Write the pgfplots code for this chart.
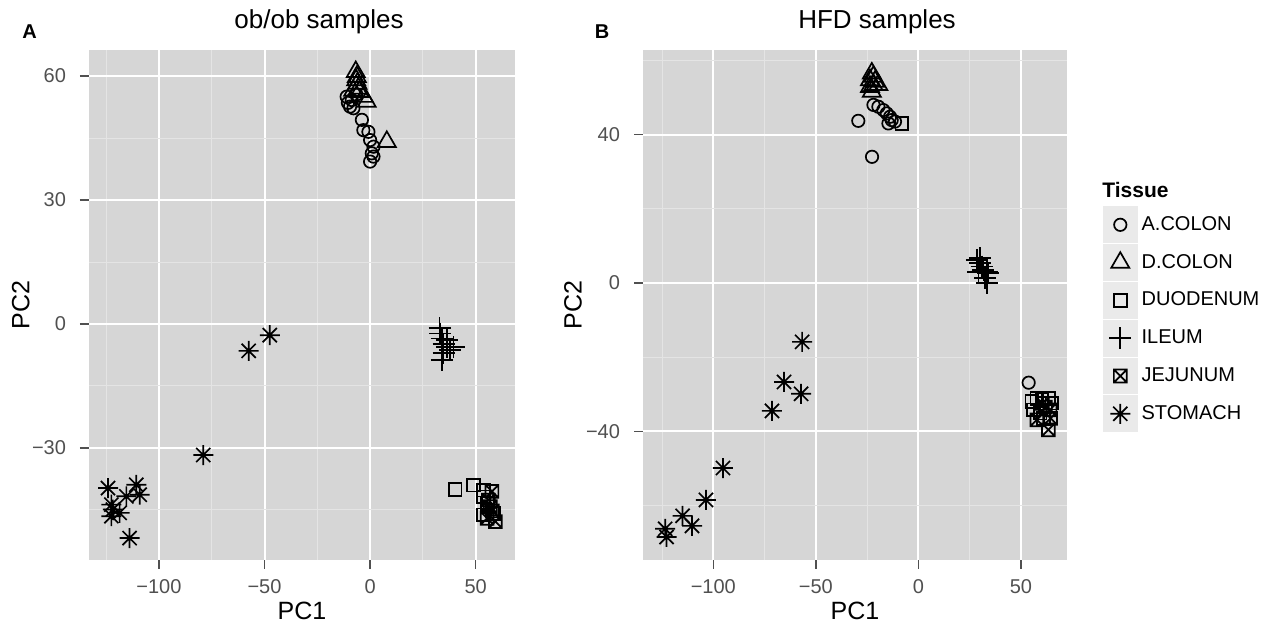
\documentclass[border=0pt]{standalone}
\usepackage{fontspec}
\setmainfont{Liberation Sans}
\usepackage{pgfplots}
\pgfplotsset{compat=1.18}

\definecolor{panel}{RGB}{214,214,214}
\definecolor{minorgrid}{RGB}{228,228,228}
\definecolor{keybg}{RGB}{234,234,234}
\definecolor{ticktext}{RGB}{80,80,80}

% ggplot shapes 7 (boxed x) and 8 (asterisk)
\pgfdeclareplotmark{boxx}{%
  \pgfpathrectangle{\pgfpoint{-\pgfplotmarksize}{-\pgfplotmarksize}}{\pgfpoint{2\pgfplotmarksize}{2\pgfplotmarksize}}%
  \pgfpathmoveto{\pgfpoint{-\pgfplotmarksize}{-\pgfplotmarksize}}\pgfpathlineto{\pgfpoint{\pgfplotmarksize}{\pgfplotmarksize}}%
  \pgfpathmoveto{\pgfpoint{-\pgfplotmarksize}{\pgfplotmarksize}}\pgfpathlineto{\pgfpoint{\pgfplotmarksize}{-\pgfplotmarksize}}%
  \pgfusepathqstroke}
\pgfdeclareplotmark{star8}{%
  \pgfpathmoveto{\pgfpoint{-\pgfplotmarksize}{0pt}}\pgfpathlineto{\pgfpoint{\pgfplotmarksize}{0pt}}%
  \pgfpathmoveto{\pgfpoint{0pt}{-\pgfplotmarksize}}\pgfpathlineto{\pgfpoint{0pt}{\pgfplotmarksize}}%
  \pgfpathmoveto{\pgfpoint{-0.707\pgfplotmarksize}{-0.707\pgfplotmarksize}}\pgfpathlineto{\pgfpoint{0.707\pgfplotmarksize}{0.707\pgfplotmarksize}}%
  \pgfpathmoveto{\pgfpoint{-0.707\pgfplotmarksize}{0.707\pgfplotmarksize}}\pgfpathlineto{\pgfpoint{0.707\pgfplotmarksize}{-0.707\pgfplotmarksize}}%
  \pgfusepathqstroke}

\pgfplotsset{
  gg/.style={
    scale only axis,
    anchor=south west,
    axis background/.style={fill=panel},
    axis line style={draw=none},
    grid=both,
    major grid style={white, line width=1pt},
    minor grid style={minorgrid, line width=0.5pt},
    tick align=outside, tick pos=left,
    major tick length=4.5pt, minor tick length=0pt,
    major tick style={ticktext, line width=0.7pt},
    ticklabel style={font=\fontsize{10}{12}\selectfont, text=ticktext},
    xticklabel style={yshift=-1.5pt},
    yticklabel style={xshift=-3.5pt},
    label style={font=\fontsize{12.5}{14}\selectfont},
    xtick={-100,-50,0,50}, xticklabels={−100,−50,0,50},
    minor xtick={-125,-75,-25,25},
    every axis plot/.append style={only marks, black, line width=0.85pt},
  },
  sA/.style={mark=o, mark size=3.1pt},
  sD/.style={mark=triangle, mark size=5.2pt},
  sDu/.style={mark=square, mark size=3.2pt},
  sI/.style={mark=+, mark size=5.5pt},
  sJ/.style={mark=boxx, mark size=3.2pt},
  sS/.style={mark=star8, mark size=5pt},
}

\begin{document}
\begin{tikzpicture}[x=1pt,y=1pt]
\path[use as bounding box] (0,0) rectangle (636.5,315);

% panel A: ob/ob
\begin{axis}[gg,
  at={(44.5pt,35pt)}, width=213pt, height=255pt,
  xmin=-133.1, xmax=68.6, ymin=-57.1, ymax=66.3,
  ytick={-30,0,30,60}, yticklabels={−30,0,30,60},
  minor ytick={-45,-15,15,45},
  xlabel={PC1}, ylabel={PC2},
  xlabel style={at={(axis description cs:0.5,-0.1)}, anchor=center},
  ylabel style={at={(axis description cs:-0.16,0.5)}, anchor=center},
]
\addplot[sA] coordinates {(-11.1,55.0) (-8.7,54.2) (-9.5,52.6) (-7.9,52.2) (-3.9,49.4) (-3.2,46.9) (-0.8,46.5) (0,44.5) (1.6,42.9) (0.8,41.3) (0,39.3) (1.6,40.5) (-6.5,55.5) (-10.5,53.5)};
\addplot[sD] coordinates {(-6.8,61.0) (-6.3,59.8) (-6.6,59.0) (-6.0,58.2) (-5.6,57.0) (-5.1,56.2) (-8.0,56.5) (-3.0,55.0) (-1.6,53.8) (7.9,44.1)};
\addplot[sDu] coordinates {(40.3,-40.0) (49.0,-39.0) (53.7,-40.2) (53.7,-41.8) (55.4,-43.4) (53.7,-46.2) (58.5,-45.8)};
\addplot[sI] coordinates {(32.9,-1.0) (33.2,-2.3) (34.0,-3.5) (34.8,-4.8) (36.4,-5.6) (39.5,-5.6) (37.9,-6.3) (34.8,-7.1) (34.0,-8.7) (36.4,-3.9)};
\addplot[sJ] coordinates {(57.7,-40.5) (56.9,-44.2) (59.3,-47.8) (55.4,-47.0) (56.0,-42.6) (57.9,-45.2)};
\addplot[sS] coordinates {(-57.5,-6.5) (-47.5,-2.7) (-79.0,-31.7) (-124.1,-39.7) (-110.7,-38.9) (-109.1,-41.3) (-115.4,-41.7) (-122.5,-43.7) (-121.8,-44.9) (-118.6,-45.7) (-122.5,-46.5) (-113.9,-51.8)};
\end{axis}

% panel B: HFD
\begin{axis}[gg,
  at={(321.5pt,35pt)}, width=212pt, height=255pt,
  xmin=-134.3, xmax=72.5, ymin=-74.7, ymax=62.8,
  ytick={-40,0,40}, yticklabels={−40,0,40},
  minor ytick={-60,-20,20,60},
  xlabel={PC1}, ylabel={PC2},
  xlabel style={at={(axis description cs:0.5,-0.1)}, anchor=center},
  ylabel style={at={(axis description cs:-0.165,0.5)}, anchor=center},
  legend style={at={(1.0838,0.694)}, anchor=north west, draw=none, fill=none,
    inner sep=0pt, row sep=0.55pt, font=\fontsize{10}{12}\selectfont,
    nodes={inner ysep=0pt, inner xsep=2pt}},
  legend cell align=left,
  legend image code/.code={%
    \fill[keybg] (-8.25pt,-8.75pt) rectangle (8.25pt,8.75pt);
    \draw[#1] plot coordinates {(0pt,0pt)};},
]
\addplot[sA] coordinates {(-29.3,43.7) (-21.9,48.0) (-19.5,47.5) (-17.1,46.6) (-15.4,45.7) (-13.8,44.8) (-13.0,43.9) (-14.6,43.0) (-11.4,43.5) (-22.6,34.0) (53.8,-26.9)};
\addlegendentry{A.COLON}
\addplot[sD] coordinates {(-22.7,56.5) (-21.9,55.6) (-23.6,54.7) (-21.1,54.3) (-21.9,53.4) (-23.6,52.9) (-19.5,53.4) (-22.7,51.6)};
\addlegendentry{D.COLON}
\addplot[sDu] coordinates {(-8.1,43.0) (55.3,-32.0) (57.8,-31.1) (60.2,-31.5) (63.4,-31.1) (56.1,-34.2) (59.4,-35.1) (61.0,-36.5) (65.1,-32.4)};
\addlegendentry{DUODENUM}
\addplot[sI] coordinates {(28.5,6.2) (30.1,6.7) (30.1,5.3) (30.9,4.4) (31.7,3.5) (33.4,3.0) (34.1,2.6) (32.5,1.3) (33.4,-0.1) (29.3,3.0)};
\addlegendentry{ILEUM}
\addplot[sJ] coordinates {(63.4,-39.6) (64.2,-34.2) (57.8,-36.9) (62.0,-33.5) (60.5,-32.5) (64.5,-36.5)};
\addlegendentry{JEJUNUM}
\addplot[sS] coordinates {(-56.7,-15.9) (-65.5,-26.7) (-57.2,-29.9) (-71.4,-34.5) (-95.3,-49.9) (-103.6,-58.5) (-115.0,-62.8) (-110.4,-65.5) (-123.5,-66.3) (-122.8,-68.5)};
\addlegendentry{STOMACH}
\end{axis}

% titles, panel letters, legend title
\node[font=\fontsize{13}{15}\selectfont] at (159.5,304) {ob/ob samples};
\node[font=\fontsize{13}{15}\selectfont] at (438.5,304) {HFD samples};
\node[font=\bfseries\fontsize{10}{12}\selectfont] at (14.75,299) {A};
\node[font=\bfseries\fontsize{10}{12}\selectfont] at (301,299) {B};
\node[anchor=west, inner sep=0pt, font=\bfseries\fontsize{10.5}{12}\selectfont] at (551,220) {Tissue};
\end{tikzpicture}
\end{document}
